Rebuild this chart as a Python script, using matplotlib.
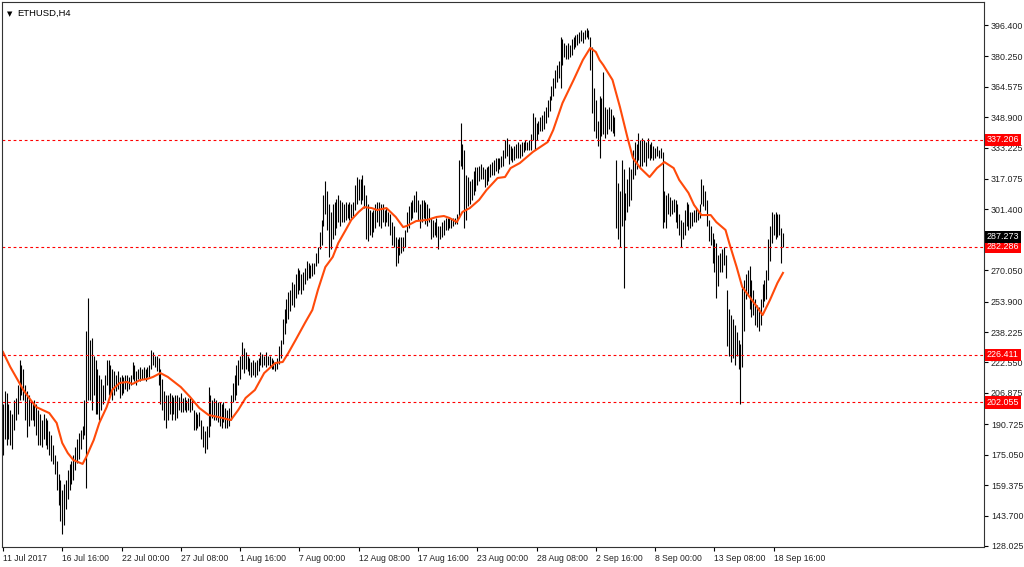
import matplotlib
matplotlib.use("Agg")
import matplotlib.pyplot as plt
import matplotlib.transforms as mtrans

plt.rcParams['font.family'] = ['Liberation Sans', 'DejaVu Sans']

# ETHUSD H4 bars (high / low per bar)
highs = [
    201, 208, 207, 201, 198, 196, 203, 204, 211, 224,
    221, 219, 211, 208, 206, 203, 202, 203, 201, 198,
    196, 193, 196, 194, 193, 187, 185, 180, 175, 172,
    165, 162, 157, 160, 162, 167, 170, 172, 175, 179,
    183, 186, 188, 190, 203, 239, 256, 234, 235, 226,
    224, 219, 216, 214, 211, 216, 224, 224, 221, 219,
    218, 216, 218, 215, 216, 215, 216, 216, 215, 216,
    223, 221, 218, 219, 220, 219, 220, 219, 220, 221,
    229, 228, 226, 226, 225, 219, 214, 208, 206, 206,
    207, 206, 205, 206, 206, 205, 207, 204, 205, 203,
    204, 204, 203, 198, 197, 196, 197, 193, 190, 187,
    190, 210, 206, 203, 204, 203, 202, 202, 201, 202,
    199, 198, 199, 206, 212, 216, 221, 224, 226, 233,
    230, 228, 226, 225, 223, 224, 223, 224, 225, 228,
    227, 226, 228, 226, 226, 225, 224, 223, 225, 231,
    234, 245, 250, 255, 259, 260, 264, 263, 268, 271,
    270, 268, 269, 271, 275, 274, 273, 274, 274, 279,
    282, 290, 296, 309, 316, 311, 304, 300, 304, 305,
    307, 309, 306, 305, 304, 305, 304, 305, 304, 305,
    314, 318, 317, 317, 319, 314, 309, 304, 301, 300,
    301, 304, 305, 305, 304, 304, 301, 302, 300, 299,
    295, 293, 287, 286, 287, 287, 287, 291, 300, 303,
    305, 306, 309, 311, 306, 304, 306, 306, 305, 304,
    302, 297, 296, 295, 297, 293, 293, 295, 296, 297,
    297, 297, 297, 297, 297, 299, 327, 346, 335, 332,
    319, 318, 316, 317, 321, 323, 323, 324, 325, 323,
    322, 323, 324, 325, 326, 327, 328, 328, 328, 329,
    332, 337, 338, 335, 334, 333, 334, 335, 336, 335,
    336, 336, 337, 336, 337, 340, 351, 349, 346, 347,
    349, 350, 352, 354, 358, 360, 365, 369, 373, 376,
    378, 390, 389, 387, 386, 387, 386, 389, 390, 391,
    392, 393, 394, 393, 394, 395, 394, 390, 385, 364,
    358, 347, 360, 359, 372, 354, 353, 354, 353, 350,
    349, 327, 315, 311, 327, 322, 310, 317, 323, 322,
    332, 336, 335, 341, 337, 338, 337, 336, 338, 335,
    336, 334, 333, 334, 332, 333, 331, 311, 309, 310,
    308, 306, 307, 306, 304, 299, 296, 295, 301, 305,
    304, 300, 300, 301, 302, 301, 304, 317, 314, 311,
    306, 296, 293, 289, 286, 284, 278, 279, 281, 282,
    278, 260, 250, 247, 245, 242, 238, 234, 232, 261,
    265, 268, 270, 272, 265, 260, 255, 252, 251, 255,
    263, 265, 270, 286, 293, 300, 299, 300, 299, 299,
    292, 289,
]
lows = [
    175, 183, 180, 183, 180, 178, 188, 193, 196, 203,
    206, 203, 193, 184, 190, 193, 193, 190, 185, 180,
    180, 179, 183, 180, 178, 175, 172, 170, 165, 157,
    149, 141, 134, 139, 147, 152, 157, 160, 162, 167,
    171, 173, 178, 183, 185, 158, 203, 203, 198, 206,
    196, 196, 193, 198, 201, 203, 211, 206, 207, 203,
    206, 208, 209, 204, 206, 207, 209, 208, 209, 211,
    214, 213, 211, 214, 213, 214, 214, 213, 215, 215,
    219, 221, 220, 218, 211, 201, 198, 193, 189, 193,
    196, 193, 196, 193, 194, 198, 197, 197, 198, 197,
    198, 197, 198, 188, 188, 189, 190, 183, 179, 176,
    178, 184, 190, 194, 193, 193, 192, 190, 189, 192,
    189, 189, 190, 193, 202, 203, 206, 211, 214, 219,
    217, 219, 218, 216, 215, 216, 215, 216, 218, 221,
    220, 221, 220, 221, 220, 219, 219, 218, 219, 222,
    225, 232, 237, 243, 245, 249, 252, 251, 256, 258,
    260, 258, 260, 263, 265, 266, 266, 267, 268, 272,
    274, 281, 283, 293, 299, 291, 277, 281, 286, 288,
    292, 295, 293, 295, 295, 296, 297, 296, 297, 298,
    301, 304, 306, 304, 306, 302, 286, 285, 288, 287,
    290, 292, 295, 293, 292, 295, 293, 295, 293, 288,
    283, 282, 272, 274, 278, 279, 280, 282, 290, 292,
    296, 297, 300, 300, 296, 292, 295, 297, 294, 293,
    295, 286, 287, 288, 287, 281, 286, 287, 288, 291,
    291, 292, 292, 293, 294, 294, 297, 324, 322, 292,
    296, 303, 304, 306, 309, 311, 314, 316, 317, 317,
    313, 314, 316, 318, 319, 319, 321, 320, 322, 323,
    324, 328, 329, 325, 327, 326, 327, 328, 328, 328,
    329, 331, 332, 332, 332, 332, 337, 332, 337, 340,
    342, 342, 343, 346, 349, 352, 358, 360, 364, 367,
    369, 364, 376, 380, 379, 379, 380, 381, 384, 385,
    386, 387, 388, 387, 389, 390, 389, 373, 351, 342,
    338, 334, 328, 339, 340, 338, 340, 343, 342, 341,
    339, 292, 286, 282, 293, 261, 296, 300, 303, 306,
    317, 319, 322, 327, 323, 324, 326, 324, 328, 327,
    328, 327, 328, 329, 328, 328, 292, 295, 292, 299,
    298, 299, 300, 295, 292, 288, 282, 286, 288, 293,
    291, 292, 293, 295, 295, 296, 297, 304, 303, 301,
    293, 285, 283, 274, 269, 256, 262, 269, 269, 273,
    266, 231, 226, 223, 225, 221, 226, 219, 201, 220,
    239, 255, 257, 250, 246, 247, 242, 241, 239, 242,
    251, 254, 255, 265, 275, 284, 288, 286, 287, 288,
    274, 282,
]

# moving average (orange line), sampled at bar numbers
ma_bar = [0, 4, 8, 11, 15, 18, 25, 29, 32, 35,
          38, 43, 45, 49, 52, 56, 59, 63, 67, 70,
          74, 78, 81, 85, 89, 96, 101, 106, 111, 116,
          123, 127, 131, 136, 141, 147, 151, 154, 158, 163,
          167, 170, 174, 178, 181, 185, 188, 192, 195, 199,
          202, 207, 212, 216, 218, 223, 229, 234, 238, 241,
          245, 248, 252, 257, 261, 267, 271, 274, 279, 286,
          294, 297, 302, 308, 313, 317, 320, 322, 324, 329,
          333, 337, 340, 344, 349, 353, 357, 362, 365, 370,
          373, 377, 382, 385, 390, 392, 396, 399, 403, 407,
          410, 414, 418, 421]
ma_val = [228.0, 220.2, 213.5, 208.4, 203.2, 199.6, 196.5, 191.4, 181.1, 175.9,
          172.3, 170.3, 173.9, 182.6, 191.4, 199.6, 208.4, 212.0, 212.5, 211.5,
          213.5, 214.1, 215.1, 217.1, 215.1, 209.9, 204.8, 199.1, 195.5, 194.5,
          192.9, 198.1, 204.3, 208.4, 217.1, 222.3, 222.8, 227.4, 234.2, 242.9,
          249.6, 259.9, 271.7, 276.9, 284.1, 290.8, 296.0, 300.1, 302.6, 302.1,
          301.1, 302.1, 297.5, 292.3, 292.9, 295.4, 296.0, 297.5, 298.0, 297.0,
          294.9, 300.1, 302.1, 306.3, 311.4, 317.6, 318.1, 322.7, 325.3, 331.0,
          336.1, 342.3, 356.2, 368.1, 378.4, 384.6, 382.5, 378.4, 375.8, 368.1,
          354.2, 338.7, 327.9, 322.7, 318.1, 322.7, 325.8, 322.7, 316.6, 309.9,
          303.7, 298.5, 298.5, 294.9, 290.8, 284.1, 271.7, 261.5, 256.3, 251.2,
          247.0, 254.8, 263.5, 268.7]

levels = [337.206, 282.286, 226.411, 202.055]
last_price = 287.273

yticks = [396.400, 380.250, 364.575, 348.900, 333.225, 317.075, 301.400,
          270.050, 253.900, 238.225, 222.550, 206.875, 190.725, 175.050,
          159.375, 143.700, 128.025]
xtick_bars = [0, 32, 64, 96, 128, 160, 192, 224, 256, 288, 320, 352, 384, 416]
xtick_labels = ['11 Jul 2017', '16 Jul 16:00', '22 Jul 00:00', '27 Jul 08:00',
                '1 Aug 16:00', '7 Aug 00:00', '12 Aug 08:00', '17 Aug 16:00',
                '23 Aug 00:00', '28 Aug 08:00', '2 Sep 16:00', '8 Sep 00:00',
                '13 Sep 08:00', '18 Sep 16:00']

fig = plt.figure(figsize=(10.24, 5.67), dpi=100)
ax = fig.add_axes([2 / 1024, 20 / 567, 982 / 1024, 545 / 567])

bars = list(range(len(highs)))
ax.vlines(bars, lows, highs, color='black', lw=0.8)
ax.plot(ma_bar, ma_val, color='#ff4a0a', lw=1.5, solid_joinstyle='round')

for lv in levels:
    ax.axhline(lv, color='red', lw=0.8, ls=(0, (2.5, 2.5)))

ax.set_xlim(-0.5, 529.5)
ax.set_ylim(127.5, 408.25)

ax.yaxis.tick_right()
ax.set_yticks(yticks)
ax.set_yticklabels(['%.3f' % v for v in yticks])
ax.tick_params(axis='y', direction='out', length=3, pad=2, labelsize=6.4,
               width=0.8, labelcolor='#222222')
ax.set_xticks(xtick_bars)
ax.set_xticklabels(xtick_labels, ha='left')
ax.tick_params(axis='x', direction='out', length=3, pad=2, labelsize=6.2,
               width=0.8, labelcolor='#222222')
for sp in ax.spines.values():
    sp.set_linewidth(0.8)
    sp.set_color('#333333')

trans = mtrans.blended_transform_factory(ax.transAxes, ax.transData)
for lv in levels:
    ax.text(1.003, lv, '%.3f' % lv, transform=trans, ha='left', va='center',
            fontsize=6.4, color='white', clip_on=False, zorder=6,
            bbox=dict(boxstyle='square,pad=0.2', fc='red', ec='none'))
ax.text(1.003, last_price, '%.3f' % last_price, transform=trans, ha='left',
        va='center', fontsize=6.4, color='white', clip_on=False, zorder=6,
        bbox=dict(boxstyle='square,pad=0.2', fc='black', ec='none'))

ax.text(0.005, 0.983, '\u25bc', transform=ax.transAxes, fontsize=5,
        va='top', ha='left', family='DejaVu Sans')
ax.text(0.016, 0.987, 'ETHUSD,H4', transform=ax.transAxes, fontsize=6.8,
        va='top', ha='left')

fig.savefig('out.png', dpi=100)
